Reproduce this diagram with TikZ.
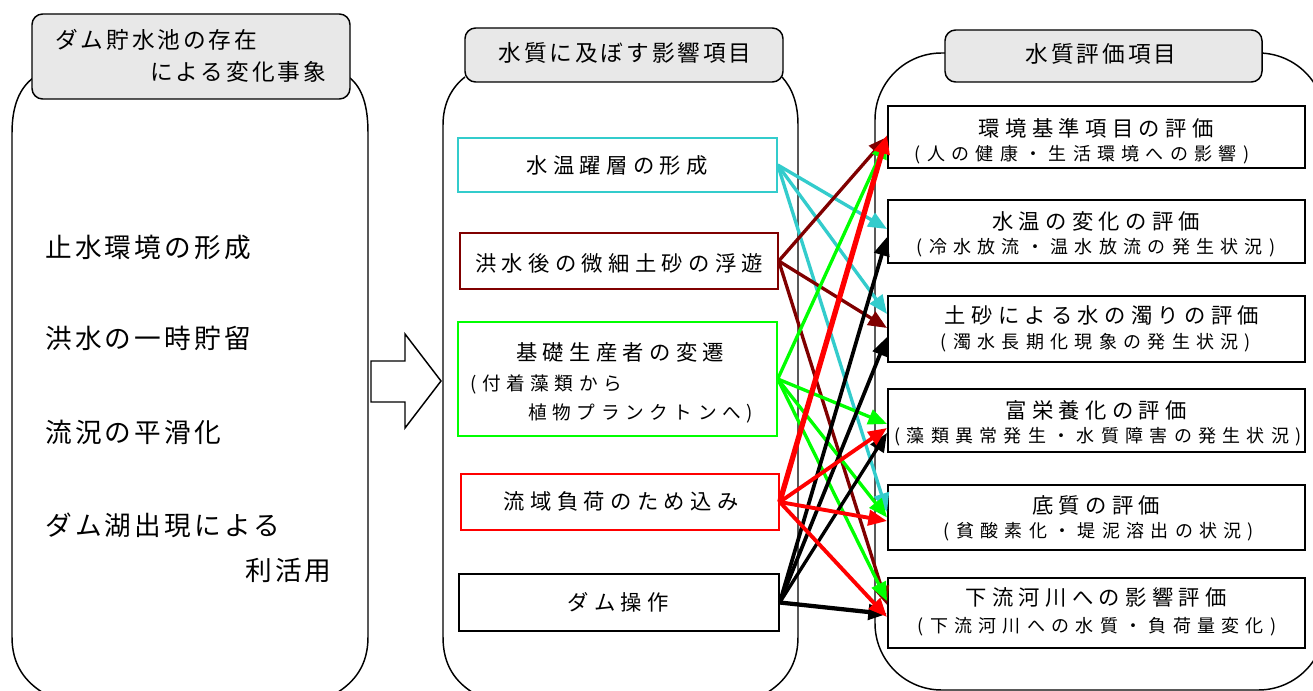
\documentclass[tikz,border=0pt]{standalone}
\usepackage{fontspec}
\usetikzlibrary{arrows.meta,calc,fit}
\newfontfamily\jpH[LetterSpace=13]{Noto Sans CJK JP}
\newfontfamily\jpL[LetterSpace=12]{Noto Sans CJK JP}
\newfontfamily\jpT[LetterSpace=25]{Noto Sans CJK JP}
\newfontfamily\jpS[LetterSpace=35]{Noto Sans CJK JP}
\newfontfamily\jpM[LetterSpace=30]{Noto Sans CJK JP}
\definecolor{cyanC}{RGB}{51,204,204}
\definecolor{dredC}{RGB}{128,0,0}
\definecolor{greenC}{RGB}{0,255,0}
\definecolor{redC}{RGB}{255,0,0}
\definecolor{hdrgray}{RGB}{232,232,232}
\tikzset{
  jar/.style={draw=black, line width=1.1pt},
  hdr/.style={draw=black, line width=1.1pt, fill=hdrgray, rounded corners=8pt},
  hdrtext/.style={font=\jpH\fontsize{17}{20}\selectfont, inner sep=0pt},
  ltext/.style={font=\jpL\fontsize{20}{24}\selectfont, inner sep=0pt, anchor=west},
  ttext/.style={font=\jpT\fontsize{16}{19}\selectfont, inner sep=0pt},
  stext/.style={font=\jpS\fontsize{13.5}{16}\selectfont, inner sep=0pt},
  mtext/.style={font=\jpM\fontsize{14}{17}\selectfont, inner sep=0pt, anchor=west},
  fbox/.style={inner sep=0pt, line width=1.1pt},
  ebox/.style={inner sep=0pt, draw=black, line width=1.5pt, fill=white},
  conn/.style={line width=2.5pt, -{Triangle[length=14pt,width=11.5pt]}},
}
\begin{document}
\begin{tikzpicture}[x=0.75pt,y=-0.75pt]
\useasboundingbox (0,0) rectangle (1313,691);
\fill[white] (0,0) rectangle (1313,691);
\clip (0,0) rectangle (1313,691);
% jars
\draw[jar] (33,78) .. controls (20,88) and (12,105) .. (12,133) -- (12,637)
  .. controls (12,665) and (25,682) .. (45,694) -- (335,694)
  .. controls (355,682) and (368,665) .. (368,637) -- (368,133)
  .. controls (368,105) and (362,88) .. (350,78);
\draw[jar] (465,77) .. controls (452,87) and (443,103) .. (443,125) -- (443,637)
  .. controls (443,665) and (455,682) .. (475,694) -- (765,694)
  .. controls (785,682) and (798,665) .. (798,637) -- (798,125)
  .. controls (798,103) and (792,88) .. (782,77);
\draw[jar, rounded corners=50pt] (875,53) rectangle (1325,690);
% headers
\draw[hdr] (32,14) rectangle (350,99);
\draw[hdr] (465,28) rectangle (783,82);
\draw[hdr] (945,30) rectangle (1262,82);
\node[hdrtext, anchor=west] (h1a) at (55,40) {ダム貯水池の存在};
\node[hdrtext, anchor=west] (h1b) at (150,72) {による変化事象};
\node[hdrtext] (h2) at (625,53) {水質に及ぼす影響項目};
\node[hdrtext] (h3) at (1101,54) {水質評価項目};
% left column
\node[ltext] (l1) at (45,247) {止水環境の形成};
\node[ltext] (l2) at (45,338) {洪水の一時貯留};
\node[ltext] (l3) at (45,432) {流況の平滑化};
\node[ltext] (l4) at (45,525) {ダム湖出現による};
\node[ltext] (l5) at (245,570) {利活用};
% block arrow
\draw[line width=1.1pt, line join=miter] (371,361) -- (405,361) -- (405,334) -- (441,381) -- (405,428) -- (405,402) -- (371,402) -- cycle;
% middle boxes
\node[fbox, draw=cyanC, fit={(458,138) (777,192)}] (b1) {};
\node[fbox, draw=dredC, fit={(460,233) (778,289)}] (b2) {};
\node[fbox, draw=greenC, fit={(458,322) (777,436)}] (b3) {};
\node[fbox, draw=redC, fit={(461,474) (779,530)}] (b4) {};
\node[fbox, draw=black, fit={(459,574) (779,631)}] (b5) {};
\node[ttext] (b1t) at (617,165) {水温躍層の形成};
\node[ttext] (b2t) at (619,263) {洪水後の微細土砂の浮遊};
\node[ttext] (b3t) at (620,352) {基礎生産者の変遷};
\node[mtext] (b3s) at (470,384) {(付着藻類から};
\node[mtext] (b3u) at (528,413) {植物プランクトンへ)};
\node[ttext] (b4t) at (621,501) {流域負荷のため込み};
\node[ttext] (b5t) at (618,602) {ダム操作};
% right boxes
\node[ebox, fit={(888,106) (1305,168)}] (e1) {};
\node[ebox, fit={(888,200) (1305,263)}] (e2) {};
\node[ebox, fit={(888,296) (1305,362)}] (e3) {};
\node[ebox, fit={(888,389) (1305,452)}] (e4) {};
\node[ebox, fit={(888,485) (1305,550)}] (e5) {};
\node[ebox, fit={(888,578) (1305,648)}] (e6) {};
\node[ttext] (e1t) at (1096,128) {環境基準項目の評価};
\node[stext] (e1s) at (1082,155) {(人の健康・生活環境への影響)};
\node[ttext] (e2t) at (1096,221) {水温の変化の評価};
\node[stext] (e2s) at (1096,248) {(冷水放流・温水放流の発生状況)};
\node[ttext] (e3t) at (1102,315) {土砂による水の濁りの評価};
\node[stext] (e3s) at (1096,343) {(濁水長期化現象の発生状況)};
\node[ttext] (e4t) at (1096,410) {富栄養化の評価};
\node[stext] (e4s) at (1098,437) {(藻類異常発生・水質障害の発生状況)};
\node[ttext] (e5t) at (1096,505) {底質の評価};
\node[stext] (e5s) at (1099,532) {(貧酸素化・堤泥溶出の状況)};
\node[ttext] (e6t) at (1096,597) {下流河川への影響評価};
\node[stext] (e6s) at (1097,627) {(下流河川への水質・負荷量変化)};
% connectors
\draw[conn, cyanC] (b1.east) -- ($(e2.west)+(0,-2.5)$);
\draw[conn, cyanC] (b1.east) -- ($(e3.west)+(0,-15)$);
\draw[conn, cyanC] (b1.east) -- ($(e5.west)+(0,-5.5)$);
\draw[conn, dredC] (b2.east) -- ($(e1.west)+(0,0)$);
\draw[conn, dredC] (b2.east) -- ($(e3.west)+(0,-1)$);
\draw[conn, dredC] (b2.east) -- ($(e6.west)+(0,-8)$);
\draw[conn, greenC] (b3.east) -- ($(e1.west)+(0,3)$);
\draw[conn, greenC] (b3.east) -- ($(e4.west)+(0,3.5)$);
\draw[conn, greenC] (b3.east) -- ($(e5.west)+(0,0)$);
\draw[conn, greenC] (b3.east) -- ($(e6.west)+(0,-12)$);
\draw[conn, black, line width=2.8pt] (b5.east) -- ($(e2.west)+(0,5.5)$);
\draw[conn, black, line width=2.8pt] (b5.east) -- ($(e3.west)+(0,8)$);
\draw[conn, black, line width=2.5pt] (b5.east) -- ($(e4.west)+(0,12.5)$);
\draw[conn, black, line width=3.2pt] (b5.east) -- ($(e6.west)+(0,1)$);
\draw[conn, redC, line width=4pt] (b4.east) -- ($(e1.west)+(0,-2)$);
\draw[conn, redC, line width=2.9pt] (b4.east) -- ($(e4.west)+(0,7.5)$);
\draw[conn, redC, line width=2.9pt] (b4.east) -- ($(e5.west)+(0,3.5)$);
\draw[conn, redC, line width=2.9pt] (b4.east) -- ($(e6.west)+(0,4)$);
\end{tikzpicture}
\end{document}
